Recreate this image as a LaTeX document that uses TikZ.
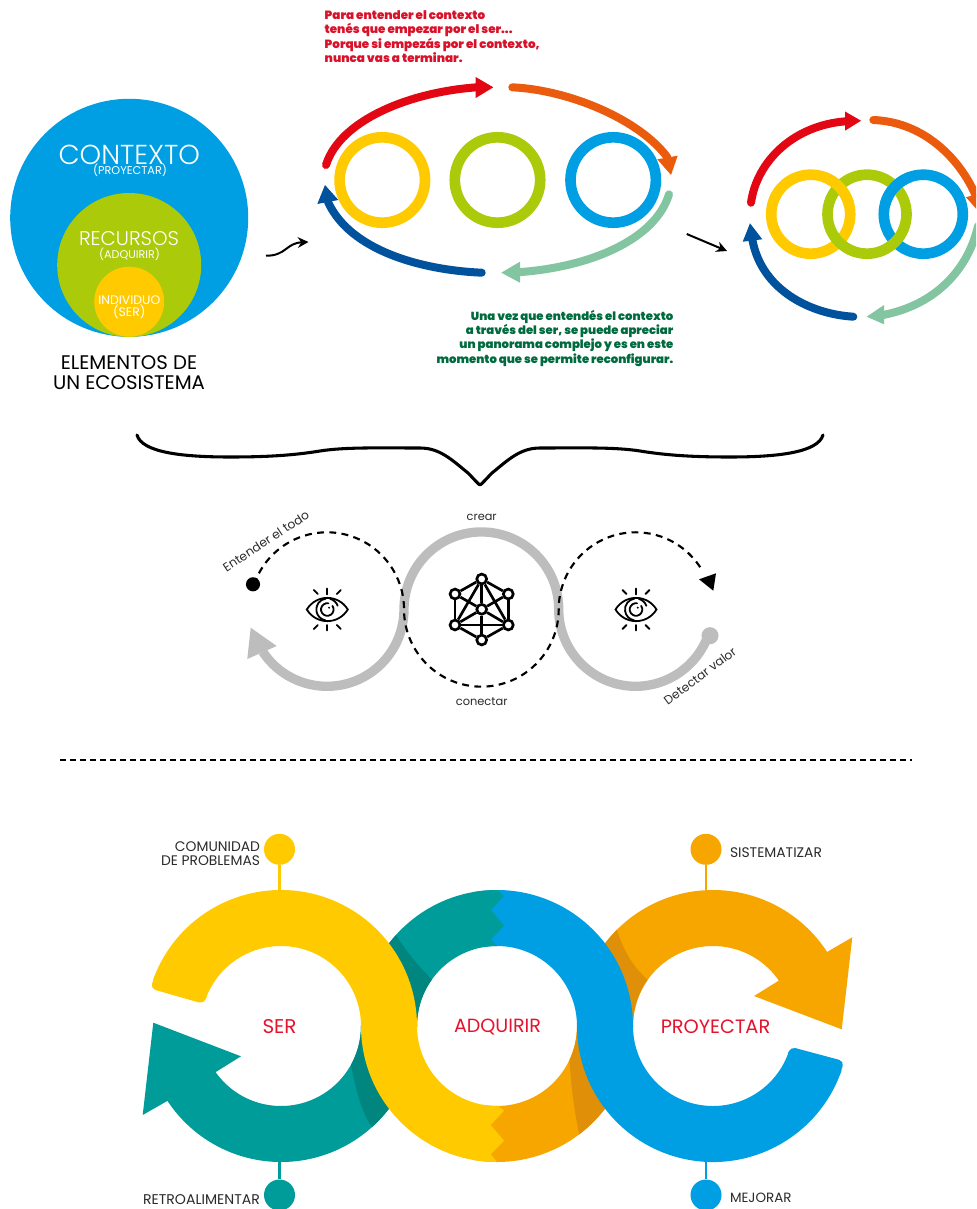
\documentclass[tikz,border=0pt]{standalone}
\usepackage{fontspec}
\usetikzlibrary{arrows.meta}
\setmainfont{Poppins}
\newfontfamily\lightf{Poppins}[UprightFont=* Light]
\newfontfamily\blackf{Poppins}[UprightFont=* Black]
\newcommand\setfit[3]{\setbox0=\hbox{\fontsize{10}{12}\selectfont #2}%
  \pgfmathsetmacro\fitsz{7.5*#1/\wd0}\pgfmathsetmacro\fitbs{0.75*#3}%
  \fontsize{\fitsz}{\fitbs}\selectfont}
\definecolor{cYel}{HTML}{FFCB00}
\definecolor{cTeal}{HTML}{009C9A}
\definecolor{cTealD}{HTML}{00867F}
\definecolor{cOra}{HTML}{F7A600}
\definecolor{cOraD}{HTML}{E09008}
\definecolor{cBlu}{HTML}{009FE3}
\definecolor{cGrn}{HTML}{AACA0A}
\definecolor{cRed}{HTML}{E30613}
\definecolor{cOrg}{HTML}{EB5B0E}
\definecolor{cMint}{HTML}{82C5A0}
\definecolor{cNavy}{HTML}{00529C}
\definecolor{cTxtR}{HTML}{D9122A}
\definecolor{cTxtG}{HTML}{006B3F}
\definecolor{cLbl}{HTML}{E5142E}
\definecolor{cDark}{HTML}{2B2B2B}
\definecolor{cGrey}{HTML}{BDBDBD}
\tikzset{
  flow/.style={line width=6pt,line cap=round},
  ringa/.style={line width=8pt},
  txt/.style={inner sep=0pt,outer sep=0pt,text=cDark},
  blob/.style={circle,inner sep=0pt,minimum size=23.25pt},
  net/.style={circle,draw=black,fill=white,line width=2pt,inner sep=0pt,minimum size=7.4pt},
  eyeline/.style={line width=1.35pt,line cap=round},
}
\newcommand\eyeicon[2]{%
\begin{scope}[shift={(#1,#2)},eyeline]
  \draw (-20.5,0) .. controls (-11,-15.5) and (11,-15.5) .. (20.5,0) .. controls (11,15.5) and (-11,15.5) .. (-20.5,0) -- cycle;
  \draw ([shift={(262:11)}]0,0) arc[start angle=262,end angle=100,radius=11];
  \draw ([shift={(285:11)}]0,0) arc[start angle=285,end angle=340,radius=11];
  \draw ([shift={(325:6.3)}]0,0) arc[start angle=325,end angle=640,radius=6.3];
  \fill (1.8,-1.8) circle[radius=1.1];
  \draw (0,-21) -- (0,-15); \draw (0,15.5) -- (0,21);
  \draw (-13.5,-19.5) -- (-9.5,-15.5); \draw (13.5,-19.5) -- (9.5,-15.5);
  \draw (-13.5,19.5) -- (-9.5,15.5); \draw (13.5,19.5) -- (9.5,15.5);
\end{scope}}
\begin{document}
\begin{tikzpicture}[x=0.75pt,y=-0.75pt]
\clip (0,0) rectangle (976,1209);
\fill[white] (0,0) rectangle (976,1209);

% --- elementos de un ecosistema
\fill[cBlu] (129.2,217.8) circle[radius=119];
\fill[cGrn] (129.2,265) circle[radius=72];
\fill[cYel] (129.2,301.7) circle[radius=35];
\node[txt,text=white,font={\lightf\setfit{141.5}{CONTEXTO}{20}}] (tContexto) at (129.3,154.5) {CONTEXTO};
\node[txt,text=white,font={\setfit{74}{(PROYECTAR)}{12}}] (tProy) at (130,170.7) {(PROYECTAR)};
\node[txt,text=white,font={\lightf\setfit{100}{RECURSOS}{16}}] (tRec) at (129,238.5) {RECURSOS};
\node[txt,text=white,font={\setfit{61}{(ADQUIRIR)}{12}}] (tAdq) at (129.5,254.7) {(ADQUIRIR)};
\node[txt,text=white,align=center,font={\setfit{62}{INDIVIDUO}{11.8}}] (tInd) at (129.3,307.6) {INDIVIDUO\\(SER)};
\node[txt,align=center,text=black,font={\setfit{152}{UN ECOSISTEMA}{20.4}}] (tElem) at (129,372.8) {ELEMENTOS DE\\UN ECOSISTEMA};

% --- hand arrows
\coordinate (h1a) at (266,255.7); \coordinate (h1b) at (308.5,242);
\draw[line width=1.5pt,-{Stealth[length=8pt,width=8pt]}] (h1a) .. controls (286,256) and (286,243) .. (h1b);
\coordinate (h2a) at (686.7,234); \coordinate (h2b) at (727,251);
\draw[line width=1.5pt,-{Stealth[length=8pt,width=8pt]}] (h2a) -- (h2b);

% --- middle cycle
\node[txt,anchor=north west,align=left,text=cTxtR,font={\blackf\setfit{215}{Porque si empezás por el contexto,}{14.5}}] (tRed) at (324.7,10.5) {Para entender el contexto\\tenés que empezar por el ser...\\Porque si empezás por el contexto,\\nunca vas a terminar.};
\node[txt,anchor=north east,align=right,text=cTxtG,font={\blackf\setfit{236.7}{momento que se permite reconfigurar.}{14.4}}] (tGreen) at (673.3,310) {Una vez que entendés el contexto\\a través del ser, se puede apreciar\\un panorama complejo y es en este\\momento que se permite reconfigurar.};

\draw[ringa,cYel] (382.3,180) circle[radius=42.7];
\draw[ringa,cGrn] (497.5,180) circle[radius=42.7];
\draw[ringa,cBlu] (613.2,180) circle[radius=42.7];

\draw[flow,cRed] (326,165) .. controls (340,120) and (410,92) .. (477,87.3);
\fill[cRed] (493.3,87.3) -- (475.7,77) -- (475.7,98) -- cycle;
\draw[flow,cOrg] (512.3,87.3) .. controls (570,90) and (640,120) .. (667.5,157.5);
\fill[cOrg] (671,175) -- (657.3,159.3) -- (677.7,155.7) -- cycle;
\draw[flow,cMint] (669,194.3) .. controls (655,240) and (590,267) .. (519,272.2);
\fill[cMint] (501.3,272.7) -- (520,261.7) -- (520,282.7) -- cycle;
\draw[flow,cNavy] (481.7,272.7) .. controls (420,270) and (350,250) .. (328,202);
\fill[cNavy] (325,185) -- (317.3,204) -- (338.3,200) -- cycle;

% --- right cycle
\draw[ringa,cYel] (810.7,214.2) circle[radius=39.5];
\draw[ringa,cBlu] (923.3,214.2) circle[radius=39.5];
\draw[ringa,cGrn] (867,214.2) circle[radius=39.5];
\draw[ringa,cYel] ([shift={(290:39.5)}]810.7,214.2) arc[start angle=290,end angle=345,radius=39.5];
\draw[ringa,cBlu] ([shift={(195:39.5)}]923.3,214.2) arc[start angle=195,end angle=250,radius=39.5];

\draw[flow,cRed] (751,202.7) .. controls (757,160) and (795,125) .. (846,121.3);
\fill[cRed] (861,120.7) -- (845,111.5) -- (845,130.7) -- cycle;
\draw[flow,cOrg] (873.3,120) .. controls (925,122) and (960,160) .. (975,194);
\fill[cOrg] (979,212) -- (966,197.3) -- (987,191) -- cycle;
\draw[flow,cMint] (978,226) .. controls (968,270) and (935,305) .. (883,315);
\fill[cMint] (866.7,316.7) -- (884,305) -- (884,324.3) -- cycle;
\draw[flow,cNavy] (853.3,316.7) .. controls (810,314) and (762,290) .. (752.5,240.5);
\fill[cNavy] (750,223.3) -- (742.7,241.7) -- (762.3,239.3) -- cycle;

% --- brace
\draw[line width=2.3pt,line cap=round,line join=round] (137,435) .. controls (142,452) and (180,457) .. (230,457) .. controls (270,457) and (295,455) .. (320,451) .. controls (345,447) and (380,448) .. (420,448) .. controls (440,448) and (452,460) .. (468,473) .. controls (474,479) and (478,484) .. (480,485) .. controls (482,484) and (486,479) .. (492,473) .. controls (508,460) and (520,448) .. (540,448) .. controls (580,448) and (615,447) .. (640,451) .. controls (665,455) and (690,457) .. (730,457) .. controls (780,457) and (818,452) .. (823,435);

% --- S loop
\draw[line width=7pt,cGrey] ([shift={(146.5:77)}]327,609.3) arc[start angle=146.5,end angle=0,radius=77] arc[start angle=180,end angle=360,radius=77.35] arc[start angle=180,end angle=20,radius=77];
\fill[cGrey] (250.7,627.7) -- (276.7,646) -- (247.3,659) -- cycle;
\node[circle,fill=cGrey,inner sep=0pt,minimum size=12.8pt] (gdot) at (710,635.7) {};
\node[circle,fill=black,inner sep=0pt,minimum size=10.6pt] (bdot) at (253,584.3) {};
\draw[line width=1.6pt,dash pattern=on 5.2pt off 4pt] ([shift={(198.7:77)}]327,609.3) arc[start angle=198.7,end angle=360,radius=77] arc[start angle=180,end angle=0,radius=77.35] arc[start angle=180,end angle=328,radius=77];
\fill[black] (699,579.3) -- (716,573.3) -- (713.3,590.7) -- cycle;
\eyeicon{327.3}{609.5}
\eyeicon{636}{609.5}
\foreach \n/\x/\y in {nT/481.7/579,nUL/455/594,nUR/508.3/594,nC/481.7/609.3,nLL/455/625,nLR/508.3/625,nB/481.7/640}
  \node[net] (\n) at (\x,\y) {};
\foreach \a/\b in {nT/nUL,nT/nUR,nUL/nLL,nUR/nLR,nLL/nB,nLR/nB,nT/nC,nC/nB,nLL/nLR,nT/nLL,nT/nLR,nUL/nC,nUR/nC,nC/nLL,nC/nLR}
  \draw[line width=2pt] (\a) -- (\b);
\node[txt,font={\setfit{100}{Entender el todo}{14}},rotate=33.4] (tEnt) at (266,541) {Entender el todo};
\node[txt,font={\setfit{86.5}{Detectar valor}{14}},rotate=36.7] (tDet) at (700,676) {Detectar valor};
\node[txt,font={\setfit{30}{crear}{14}}] (tCre) at (481.7,517) {crear};
\node[txt,font={\setfit{51.7}{conectar}{14}}] (tCon) at (481.7,701.7) {conectar};

% --- separator
\coordinate (sepa) at (60,760); \coordinate (sepb) at (912,760);
\draw[line width=1.5pt,dash pattern=on 4.5pt off 3pt] (sepa) -- (sepb);

% --- lollipops
\node[blob,fill=cYel] (bY) at (279.5,849.3) {}; \coordinate (bYe) at (279.5,895);
\node[blob,fill=cOra] (bO) at (706,849.3) {}; \coordinate (bOe) at (706,895);
\node[blob,fill=cTeal] (bT) at (279.5,1195) {}; \coordinate (bTe) at (279.5,1155);
\node[blob,fill=cBlu] (bB) at (706,1195) {}; \coordinate (bBe) at (706,1155);
\draw[line width=1.9pt,cYel] (bY) -- (bYe);
\draw[line width=1.9pt,cOra] (bO) -- (bOe);
\draw[line width=1.9pt,cTeal] (bT) -- (bTe);
\draw[line width=1.9pt,cBlu] (bB) -- (bBe);

% orange band
\fill[cOra] ([shift={(100:80)}]497,1026) arc[start angle=100,end angle=0,radius=80] arc[start angle=180,end angle=327,radius=136] -- (852.3,937.3) -- (841.7,1029.3) -- (754,996) -- ([shift={(325.4:80)}]713,1026) arc[start angle=325.4,end angle=180,radius=80] arc[start angle=0,end angle=100,radius=136] -- cycle;
\fill[cOraD] ([shift={(25:80)}]497,1026) .. controls (571,1085) and (574,1110) .. ([shift={(52.8:136)}]497,1026) arc[start angle=52.8,end angle=0,radius=136] -- (577,1026) arc[start angle=0,end angle=25,radius=80] -- cycle;
\fill[cOraD] ([shift={(225:136)}]713,1026) .. controls (625,955) and (635,968) .. ([shift={(215.2:80)}]713,1026) arc[start angle=215.2,end angle=180,radius=80] -- (577,1026) arc[start angle=180,end angle=225,radius=136] -- cycle;
% blue band
\fill[cBlu] ([shift={(260:136)}]497,1026) arc[start angle=260,end angle=360,radius=136] arc[start angle=180,end angle=19,radius=80] -- ([shift={(19:136)}]713,1026) arc[start angle=19,end angle=180,radius=136] arc[start angle=360,end angle=260,radius=80] -- cycle;
\fill[cBlu,rounded corners=4pt] ([shift={(15:136)}]713,1026) -- ([shift={(15:80)}]713,1026) -- ([shift={(23:80)}]713,1026) -- ([shift={(23:136)}]713,1026) -- cycle;
% teal band
\fill[cTeal] (498,890) -- (504,896) -- (491,910) -- (504,925.7) -- (491,939.3) -- (497,946) arc[start angle=270,end angle=180,radius=80] arc[start angle=0,end angle=146.6,radius=136] -- (142.7,1115) -- (153.3,1022.7) -- (241,1056.3) -- ([shift={(144.8:80)}]281,1026) arc[start angle=144.8,end angle=0,radius=80] arc[start angle=180,end angle=270,radius=136] -- cycle;
\fill[cTealD] ([shift={(29:80)}]281,1026) .. controls (355,1085) and (360,1110) .. ([shift={(48:136)}]281,1026) arc[start angle=48,end angle=0,radius=136] -- (361,1026) arc[start angle=0,end angle=29,radius=80] -- cycle;
\fill[cTealD] ([shift={(222:136)}]497,1026) .. controls (405,950) and (420,968) .. ([shift={(215.6:80)}]497,1026) arc[start angle=215.6,end angle=180,radius=80] -- (361,1026) arc[start angle=180,end angle=222,radius=136] -- cycle;
% yellow band
\fill[cYel] ([shift={(200:136)}]281,1026) arc[start angle=200,end angle=360,radius=136] arc[start angle=180,end angle=89,radius=80] -- (504,1110.7) -- (490.7,1125) -- (504,1140.7) -- (490.7,1154.3) -- (497,1162) arc[start angle=90,end angle=180,radius=136] arc[start angle=360,end angle=200,radius=80] -- cycle;
\fill[cYel,rounded corners=4pt] ([shift={(196:136)}]281,1026) -- ([shift={(196:80)}]281,1026) -- ([shift={(204:80)}]281,1026) -- ([shift={(204:136)}]281,1026) -- cycle;

% labels
\node[txt,text=cLbl,font={\setfit{34}{SER}{20}}] (lSer) at (279.5,1027) {SER};
\node[txt,text=cLbl,font={\setfit{87}{ADQUIRIR}{20}}] (lAdq) at (497.5,1027) {ADQUIRIR};
\node[txt,text=cLbl,font={\setfit{109.5}{PROYECTAR}{20}}] (lPro) at (715.5,1027) {PROYECTAR};
\node[txt,anchor=east,align=right,font={\setfit{99}{DE PROBLEMAS}{14}}] (lCom) at (260,853.5) {COMUNIDAD\\DE PROBLEMAS};
\node[txt,anchor=west,font={\setfit{92}{SISTEMATIZAR}{14}}] (lSis) at (730,852.5) {SISTEMATIZAR};
\node[txt,anchor=east,font={\setfit{117}{RETROALIMENTAR}{14}}] (lRet) at (260,1199.5) {RETROALIMENTAR};
\node[txt,anchor=west,font={\setfit{61.5}{MEJORAR}{14}}] (lMej) at (730,1197.5) {MEJORAR};
\end{tikzpicture}
\end{document}
